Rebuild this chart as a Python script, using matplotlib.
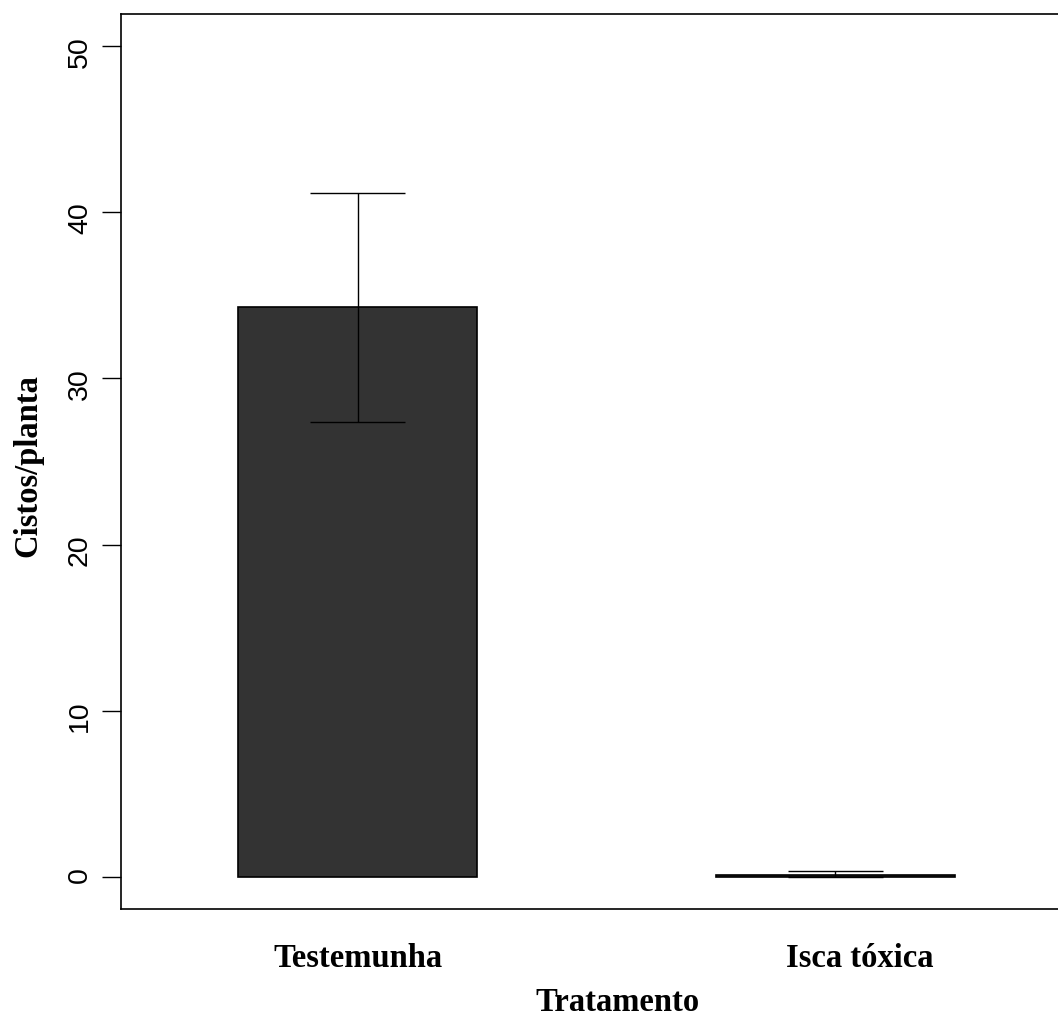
import matplotlib
matplotlib.use("Agg")
import matplotlib.pyplot as plt
import matplotlib.transforms as mtransforms
import numpy as np

# Data
categories = ["Testemunha", "Isca tóxica"]
means = [34.27, 0.10]
se = [6.87, 0.24]
yticks = [0, 10, 20, 30, 40, 50]

W, H = 1058, 1016
fig = plt.figure(figsize=(W / 100, H / 100), dpi=100)
# axes frame in pixels: left 121, right 1115 (beyond image), top 14, bottom 909
ax = fig.add_axes([121 / W, (H - 909) / H, 994 / W, (909 - 14) / H])

pos = np.array([1.5, 3.5])
bar_w = 1.0
ax.bar(pos, means, width=bar_w, color="#333333", edgecolor="black", linewidth=1.2, zorder=2)

cap = 0.2
lo = np.maximum(np.array(means) - np.array(se), 0)
hi = np.array(means) + np.array(se)
ax.vlines(pos, lo, hi, color="black", linewidth=1.0, zorder=3)
ax.hlines(hi, pos - cap, pos + cap, color="black", linewidth=1.0, zorder=3)
ax.hlines(lo, pos - cap, pos + cap, color="black", linewidth=1.0, zorder=3)

ax.set_xlim(0.51, 4.67)
ax.set_ylim(-1.93, 51.93)

ax.set_yticks(yticks)
ax.set_yticklabels([str(t) for t in yticks], rotation=90,
                   fontfamily="Liberation Sans", fontsize=20.5)
ax.tick_params(axis="y", length=13.7, width=1.0, pad=6.5)

ax.set_xticks(pos)
ax.set_xticklabels(categories, fontfamily="Liberation Serif", fontweight="bold", fontsize=23.5)
ax.tick_params(axis="x", length=0, pad=24.5)
# second label appears shifted right in the reference
lbls = ax.get_xticklabels()
offset = mtransforms.ScaledTranslation(24 / 100, 0, fig.dpi_scale_trans)
lbls[1].set_transform(lbls[1].get_transform() + offset)

ax.set_xlabel("Tratamento", fontfamily="Liberation Serif", fontweight="bold", fontsize=23.5)
ax.xaxis.set_label_coords(0.5, -0.087)
ax.set_ylabel("Cistos/planta", fontfamily="Liberation Serif", fontweight="bold", fontsize=23.5)
ax.yaxis.set_label_coords(-0.0785, 0.496)

for s in ax.spines.values():
    s.set_linewidth(1.2)
    s.set_color("black")

fig.savefig("out.png", dpi=100)
